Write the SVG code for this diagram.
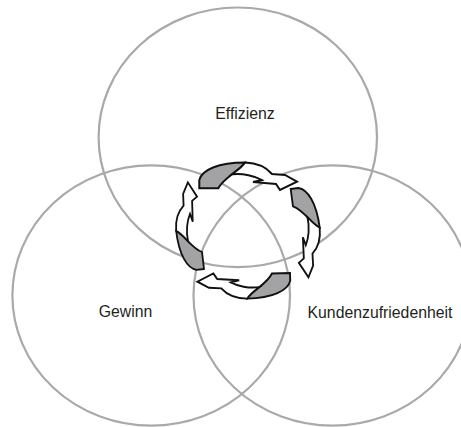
<svg xmlns="http://www.w3.org/2000/svg" xmlns:xlink="http://www.w3.org/1999/xlink" width="461" height="427" viewBox="0 0 461 427">
<style>
.circ{fill:none;stroke:#a9a9ab;stroke-width:2.2}
.lbl{font-family:"Liberation Sans",Arial,sans-serif;font-size:15.8px;fill:#231f20;text-anchor:middle}
.tail{fill:#a3a3a5;stroke:#111;stroke-width:2;stroke-linejoin:miter}
.head{fill:#fff;stroke:#111;stroke-width:2;stroke-linejoin:miter}
</style>
<defs>
<g id="arrow">
<path class="tail" d="M199.3,188.3 L199.3,180 C202,170 218,162.5 245,162.5 C240,171 224,177 218.3,188.3 Z"/>
<path class="head" d="M245,162.5 C258,163 267,168 272,174 L285,175 L297,181.7 L280,190 L276,184 L253,182 L262,180 C255,176 243,173 231.9,174.3 C237.25,170.4 242.5,166.75 245,162.5 Z"/>
</g>
</defs>
<g id="effizienz">
<ellipse class="circ" cx="237.8" cy="137.3" rx="139.2" ry="129.8"/>
<text class="lbl" x="245" y="119">Effizienz</text>
</g>
<g id="gewinn">
<ellipse class="circ" cx="151.2" cy="295.5" rx="138.8" ry="130.2"/>
<text class="lbl" x="125.5" y="317">Gewinn</text>
</g>
<g id="kundenzufriedenheit">
<ellipse class="circ" cx="332.5" cy="295.5" rx="139" ry="130.2"/>
<text class="lbl" x="380" y="318">Kundenzufriedenheit</text>
</g>
<g id="connectors">
<use xlink:href="#arrow"/>
<use xlink:href="#arrow" transform="translate(290.7,189) rotate(82.5) scale(0.92) translate(-199.3,-188.3)"/>
<use xlink:href="#arrow" transform="translate(290,273) rotate(178.5) scale(0.95) translate(-199.3,-188.3)"/>
<use xlink:href="#arrow" transform="translate(204,269) rotate(263.3) scale(0.9) translate(-199.3,-188.3)"/>
</g>
</svg>
